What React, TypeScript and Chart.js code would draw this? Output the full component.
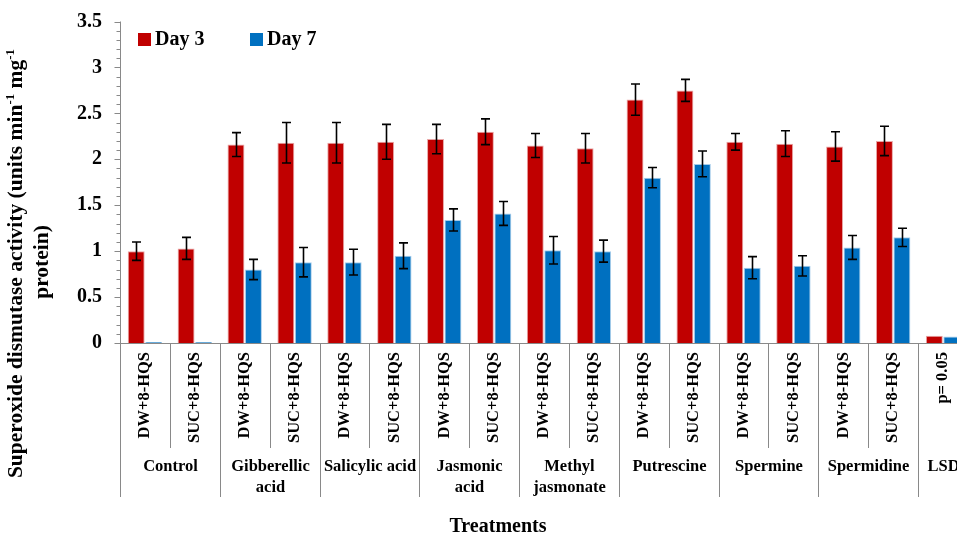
import React, { useEffect, useRef } from 'react';
import { Chart, registerables } from 'chart.js';
Chart.register(...registerables);

const categories = [
  'DW+8-HQS', 'SUC+8-HQS', 'DW+8-HQS', 'SUC+8-HQS', 'DW+8-HQS', 'SUC+8-HQS',
  'DW+8-HQS', 'SUC+8-HQS', 'DW+8-HQS', 'SUC+8-HQS', 'DW+8-HQS', 'SUC+8-HQS',
  'DW+8-HQS', 'SUC+8-HQS', 'DW+8-HQS', 'SUC+8-HQS', 'p= 0.05',
];
const groupLabels = [
  ['Control'], ['Gibberellic', 'acid'], ['Salicylic acid'], ['Jasmonic', 'acid'],
  ['Methyl', 'jasmonate'], ['Putrescine'], ['Spermine'], ['Spermidine'], ['LSD'],
];
const groupSizes = [2, 2, 2, 2, 2, 2, 2, 2, 1];
const seriesNames = ['Day 3', 'Day 7'];
const day3 = [1.0, 1.03, 2.16, 2.18, 2.18, 2.19, 2.22, 2.3, 2.15, 2.12, 2.65, 2.75, 2.19, 2.17, 2.14, 2.2, 0.08];
const day3Err = [0.1, 0.12, 0.13, 0.22, 0.22, 0.19, 0.16, 0.14, 0.13, 0.16, 0.17, 0.12, 0.09, 0.14, 0.16, 0.16, 0];
const day7 = [0.01, 0.01, 0.8, 0.88, 0.88, 0.95, 1.34, 1.41, 1.01, 1.0, 1.8, 1.95, 0.82, 0.84, 1.04, 1.15, 0.07];
const day7Err = [0, 0, 0.11, 0.16, 0.14, 0.14, 0.12, 0.13, 0.15, 0.12, 0.11, 0.14, 0.12, 0.11, 0.13, 0.1, 0];
const yTickLabels = ['0', '0.5', '1', '1.5', '2', '2.5', '3', '3.5'];
const xTitle = 'Treatments';
const yTitleLine1 = [
  { t: 'Superoxide dismutase activity (units min', sup: false },
  { t: '-1', sup: true },
  { t: ' mg', sup: false },
  { t: '-1', sup: true },
];
const yTitleLine2 = 'protein)';

const RED = '#C00000';
const BLUE = '#0070C0';
const AXIS = '#898989';
const SERIF = '"Liberation Serif", "Times New Roman", serif';

const decorPlugin = {
  id: 'decor',
  afterDatasetsDraw(chart: any) {
    const ctx = chart.ctx;
    const y = chart.scales.y;
    const errs = [day3Err, day7Err];
    ctx.save();
    ctx.strokeStyle = '#000';
    ctx.lineWidth = 1.6;
    chart.data.datasets.forEach((ds: any, i: number) => {
      const meta = chart.getDatasetMeta(i);
      meta.data.forEach((bar: any, j: number) => {
        const e = errs[i][j];
        if (!e) return;
        const v = ds.data[j];
        const x = Math.round(bar.x) + 0.5;
        const t = y.getPixelForValue(v + e);
        const b = y.getPixelForValue(v - e);
        ctx.beginPath();
        ctx.moveTo(x, t);
        ctx.lineTo(x, b);
        ctx.moveTo(x - 4.5, t);
        ctx.lineTo(x + 4.5, t);
        ctx.moveTo(x - 4.5, b);
        ctx.lineTo(x + 4.5, b);
        ctx.stroke();
      });
    });
    ctx.restore();
  },
  afterDraw(chart: any) {
    const ctx = chart.ctx;
    const { left, right, top, bottom } = chart.chartArea;
    const xs = chart.scales.x;
    const ys = chart.scales.y;
    ctx.save();
    ctx.strokeStyle = AXIS;
    ctx.lineWidth = 1;
    // y axis
    const ax = Math.round(left) + 0.5;
    ctx.beginPath();
    ctx.moveTo(ax, top);
    ctx.lineTo(ax, bottom);
    for (let k = 0; k <= 35; k++) {
      const py = Math.round(ys.getPixelForValue(k / 10)) + 0.5;
      const len = k % 5 === 0 ? 6 : 4;
      ctx.moveTo(ax - len, py);
      ctx.lineTo(ax, py);
    }
    ctx.stroke();
    // x axis
    const by = Math.round(bottom) + 0.5;
    ctx.beginPath();
    ctx.moveTo(left, by);
    ctx.lineTo(right, by);
    ctx.stroke();
    // separators
    const n = categories.length;
    const step = xs.getPixelForValue(1) - xs.getPixelForValue(0);
    const edge = (k: number) => Math.round(xs.getPixelForValue(0) - step / 2 + k * step) + 0.5;
    const groupStarts = new Set<number>();
    let acc = 0;
    groupSizes.forEach((s) => { groupStarts.add(acc); acc += s; });
    groupStarts.add(acc);
    ctx.beginPath();
    for (let k = 0; k <= n; k++) {
      const ex = edge(k);
      ctx.moveTo(ex, by);
      ctx.lineTo(ex, groupStarts.has(k) ? 497 : 448);
    }
    ctx.stroke();
    // group labels
    ctx.fillStyle = '#000';
    ctx.font = `bold 16.5px ${SERIF}`;
    ctx.textAlign = 'center';
    ctx.textBaseline = 'middle';
    acc = 0;
    groupSizes.forEach((s, g) => {
      const cx = (edge(acc) + edge(acc + s)) / 2;
      groupLabels[g].forEach((line, li) => {
        ctx.fillText(line, cx, 467 + li * 21);
      });
      acc += s;
    });
    // legend
    ctx.font = `bold 20px ${SERIF}`;
    ctx.textAlign = 'left';
    const legendX = [138, 250];
    chart.data.datasets.forEach((ds: any, i: number) => {
      ctx.fillStyle = ds.backgroundColor;
      ctx.fillRect(legendX[i], 33, 13, 13);
      ctx.fillStyle = '#000';
      ctx.fillText(seriesNames[i], legendX[i] + 17, 40);
    });
    // x title
    ctx.font = `bold 20px ${SERIF}`;
    ctx.textAlign = 'center';
    ctx.fillText(xTitle, 498, 527);
    // y title
    const mainFont = `bold 21.5px ${SERIF}`;
    const supFont = `bold 13px ${SERIF}`;
    ctx.textBaseline = 'alphabetic';
    ctx.save();
    ctx.translate(22, 263.5);
    ctx.rotate(-Math.PI / 2);
    let total = 0;
    yTitleLine1.forEach((seg) => {
      ctx.font = seg.sup ? supFont : mainFont;
      total += ctx.measureText(seg.t).width;
    });
    let cx = -total / 2;
    ctx.textAlign = 'left';
    yTitleLine1.forEach((seg) => {
      ctx.font = seg.sup ? supFont : mainFont;
      ctx.fillText(seg.t, cx, seg.sup ? -8 : 0);
      cx += ctx.measureText(seg.t).width;
    });
    ctx.restore();
    ctx.save();
    ctx.translate(48, 262);
    ctx.rotate(-Math.PI / 2);
    ctx.font = mainFont;
    ctx.textAlign = 'center';
    ctx.fillText(yTitleLine2, 0, 0);
    ctx.restore();
    ctx.restore();
  },
};

export default function App() {
  const ref = useRef<HTMLCanvasElement>(null);
  useEffect(() => {
    if (!ref.current) return;
    const chart = new Chart(ref.current, {
      type: 'bar',
      data: {
        labels: categories,
        datasets: [
          { label: seriesNames[0], data: day3, backgroundColor: RED, borderColor: '#E9A6A6', borderWidth: 1 },
          { label: seriesNames[1], data: day7, backgroundColor: BLUE, borderColor: '#A6CCEA', borderWidth: 1 },
        ],
      },
      options: {
        responsive: false,
        animation: false,
        datasets: { bar: { categoryPercentage: 0.7, barPercentage: 0.97 } },
        layout: { padding: { left: 8, right: 2, top: 21.5, bottom: 0 } },
        plugins: { legend: { display: false }, tooltip: { enabled: false } },
        scales: {
          x: {
            grid: { display: false, drawTicks: false },
            border: { display: false },
            ticks: {
              color: '#000',
              font: { family: SERIF, size: 16.5, weight: 'bold' },
              maxRotation: 90,
              minRotation: 90,
              autoSkip: false,
              padding: 9,
            },
            afterFit: (s: any) => {
              s.height = 193;
              s.paddingLeft = 0;
              s.paddingRight = 0;
            },
          },
          y: {
            min: 0,
            max: 3.5,
            grid: { display: false, drawTicks: false },
            border: { display: false },
            ticks: {
              stepSize: 0.5,
              color: '#000',
              font: { family: SERIF, size: 20, weight: 'bold' },
              padding: 18,
              callback: (_v: any, i: number) => yTickLabels[i],
            },
            afterFit: (s: any) => {
              s.width = 112;
              s.paddingTop = 0;
              s.paddingBottom = 0;
            },
          },
        },
      } as any,
      plugins: [decorPlugin],
    });
    return () => chart.destroy();
  }, []);
  return (
    <div style={{ position: 'fixed', left: 0, top: 0, width: 957, height: 536, overflow: 'hidden', background: '#fff' }}>
      <canvas ref={ref} width={970} height={536} style={{ display: 'block' }} />
    </div>
  );
}
